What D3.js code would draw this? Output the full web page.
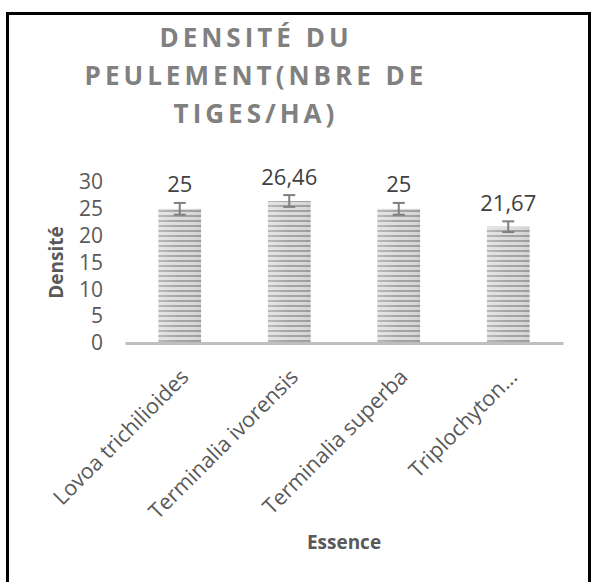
<!DOCTYPE html>
<html>
<head>
<meta charset="utf-8">
<script src="https://cdn.jsdelivr.net/npm/d3@7"></script>
<style>
  body { margin: 0; background: #fff; }
  text { font-family: "Open Sans", sans-serif; }
</style>
</head>
<body>
<div id="chart"></div>
<script>
// data
var essences = ["Lovoa trichilioides", "Terminalia ivorensis", "Terminalia superba", "Triplochyton…"];
var densites = [25, 26.46, 25, 21.67];
var erreurs = [1.1, 1.1, 1.1, 1.0];
var yTicks = [0, 5, 10, 15, 20, 25, 30];
var titreLignes = ["DENSITÉ DU", "PEULEMENT(NBRE DE", "TIGES/HA)"];

var width = 592, height = 582;
var margin = {top: 182, right: 29, bottom: 239, left: 125};

var svg = d3.select("#chart").append("svg")
  .attr("width", width)
  .attr("height", height);

// stripe pattern for the bars
var defs = svg.append("defs");
var pat = defs.append("pattern")
  .attr("id", "stripes")
  .attr("patternUnits", "userSpaceOnUse")
  .attr("width", 8)
  .attr("height", 5);
pat.append("rect").attr("width", 8).attr("height", 5).attr("fill", "#dcdcdc");
pat.append("rect").attr("y", 0).attr("width", 8).attr("height", 2).attr("fill", "#a3a3a3");

var grad = defs.append("linearGradient").attr("id", "shade").attr("x1", 0).attr("x2", 1);
grad.append("stop").attr("offset", "0%").attr("stop-color", "#fff").attr("stop-opacity", 0.25);
grad.append("stop").attr("offset", "50%").attr("stop-color", "#fff").attr("stop-opacity", 0);
grad.append("stop").attr("offset", "100%").attr("stop-color", "#000").attr("stop-opacity", 0.05);

// frame
svg.append("rect")
  .attr("x", 7.5).attr("y", 13.5)
  .attr("width", 582).attr("height", 600)
  .attr("fill", "none")
  .attr("stroke", "#000")
  .attr("stroke-width", 3);

var x = d3.scaleBand()
  .domain(essences)
  .range([margin.left, width - margin.right])
  .paddingInner(0.61)
  .paddingOuter(0.305);

var y = d3.scaleLinear()
  .domain([0, 30])
  .range([height - margin.bottom, margin.top]);

// title
svg.append("text")
  .attr("x", 255)
  .attr("text-anchor", "middle")
  .attr("fill", "#808080")
  .style("font-size", "26px")
  .style("font-weight", "bold")
  .style("letter-spacing", "4px")
  .selectAll("tspan")
  .data(titreLignes)
  .join("tspan")
  .attr("x", 256)
  .attr("y", function(d, i) { return 47 + i * 38; })
  .text(function(d) { return d; });

// y axis (labels only)
var yAxis = svg.append("g")
  .attr("transform", "translate(" + (margin.left - 22) + ",0)")
  .call(d3.axisLeft(y).tickValues(yTicks).tickSize(0).tickPadding(0));
yAxis.select(".domain").remove();
yAxis.selectAll("text")
  .attr("fill", "#595959")
  .style("font-size", "21px")
  .style("font-family", "'Open Sans', sans-serif");

// bars
svg.selectAll("rect.bar")
  .data(densites)
  .join("rect")
  .attr("class", "bar")
  .attr("x", function(d, i) { return x(essences[i]); })
  .attr("y", function(d) { return y(d); })
  .attr("width", x.bandwidth())
  .attr("height", function(d) { return y(0) - y(d); })
  .attr("fill", "url(#stripes)");

svg.selectAll("rect.shade")
  .data(densites)
  .join("rect")
  .attr("class", "shade")
  .attr("x", function(d, i) { return x(essences[i]); })
  .attr("y", function(d) { return y(d); })
  .attr("width", x.bandwidth())
  .attr("height", function(d) { return y(0) - y(d); })
  .attr("fill", "url(#shade)");

// x axis
var xAxis = svg.append("g")
  .attr("transform", "translate(0," + y(0) + ")")
  .call(d3.axisBottom(x).tickSize(0).tickSizeOuter(0));
xAxis.select(".domain")
  .attr("stroke", "#bfbfbf")
  .attr("stroke-width", 3);
xAxis.selectAll("text")
  .attr("fill", "#595959")
  .style("font-size", "21.5px")
  .style("font-family", "'Open Sans', sans-serif")
  .attr("text-anchor", "end")
  .attr("dy", "0.35em")
  .attr("transform", "translate(5,30) rotate(-45)")
  .attr("x", 0).attr("y", 0);

// error bars
var eb = svg.selectAll("g.err")
  .data(densites)
  .join("g")
  .attr("class", "err")
  .attr("stroke", "#7f7f7f")
  .attr("stroke-width", 2);
eb.append("line")
  .attr("x1", function(d, i) { return x(essences[i]) + x.bandwidth() / 2; })
  .attr("x2", function(d, i) { return x(essences[i]) + x.bandwidth() / 2; })
  .attr("y1", function(d, i) { return y(d - erreurs[i]); })
  .attr("y2", function(d, i) { return y(d + erreurs[i]); });
[1, -1].forEach(function(s) {
  eb.append("line")
    .attr("x1", function(d, i) { return x(essences[i]) + x.bandwidth() / 2 - 6; })
    .attr("x2", function(d, i) { return x(essences[i]) + x.bandwidth() / 2 + 6; })
    .attr("y1", function(d, i) { return y(d + s * erreurs[i]); })
    .attr("y2", function(d, i) { return y(d + s * erreurs[i]); });
});

// data labels
svg.selectAll("text.val")
  .data(densites)
  .join("text")
  .attr("class", "val")
  .attr("x", function(d, i) { return x(essences[i]) + x.bandwidth() / 2; })
  .attr("y", function(d, i) { return y(d + erreurs[i]) - 10.5; })
  .attr("text-anchor", "middle")
  .attr("fill", "#404040")
  .style("font-size", "22px")
  .text(function(d) { return String(d).replace(".", ","); });

// axis titles
svg.append("text")
  .attr("transform", "translate(63," + ((y(0) + y(30)) / 2) + ") rotate(-90)")
  .attr("text-anchor", "middle")
  .attr("fill", "#595959")
  .style("font-size", "19px")
  .style("font-weight", "bold")
  .text("Densité");

svg.append("text")
  .attr("x", (margin.left + width - margin.right) / 2)
  .attr("y", 549)
  .attr("text-anchor", "middle")
  .attr("fill", "#595959")
  .style("font-size", "19px")
  .style("font-weight", "bold")
  .text("Essence");
</script>
</body>
</html>
